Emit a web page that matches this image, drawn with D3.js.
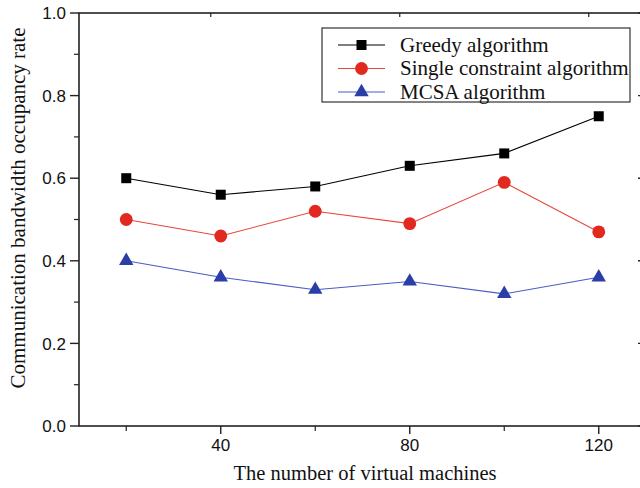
<!DOCTYPE html>
<html>
<head>
<meta charset="utf-8">
<script src="https://cdn.jsdelivr.net/npm/d3@7"></script>
<style>
  body { margin: 0; background: #fff; }
</style>
</head>
<body>
<svg id="chart" width="640" height="488"></svg>
<script>
const width = 640;
const height = 488;
const margin = { top: 13, right: -6, bottom: 62, left: 79 };

const vms = [20, 40, 60, 80, 100, 120];
const greedy = [0.60, 0.56, 0.58, 0.63, 0.66, 0.75];
const single = [0.50, 0.46, 0.52, 0.49, 0.59, 0.47];
const mcsa = [0.40, 0.36, 0.33, 0.35, 0.32, 0.36];
const seriesNames = ["Greedy algorithm", "Single constraint algorithm", "MCSA algorithm"];
const xTicks = [40, 80, 120];
const xMinor = [20, 60, 100];
const yTicks = [0.0, 0.2, 0.4, 0.6, 0.8, 1.0];
const yMinor = [0.1, 0.3, 0.5, 0.7, 0.9];

const series = [
  { name: seriesNames[0], values: greedy, line: "#000", fill: "#000", shape: d3.symbolSquare, size: 100 },
  { name: seriesNames[1], values: single, line: "#e8463c", fill: "#e2291f", shape: d3.symbolCircle, size: 130 },
  { name: seriesNames[2], values: mcsa, line: "#4a5cc4", fill: "#2b3ea8", shape: d3.symbolTriangle, size: 90 }
];

const svg = d3.select("#chart");

const x = d3.scaleLinear().domain([10, 130]).range([margin.left, width - margin.right]);
const y = d3.scaleLinear().domain([0, 1]).range([height - margin.bottom, margin.top]);

const x0 = x.range()[0], x1 = x.range()[1];
const y0 = y.range()[0], y1 = y.range()[1];
const axisColor = "#222";
const sans = "Liberation Sans, Arial, sans-serif";
const serif = "Liberation Serif, Times New Roman, serif";

// frame
svg.append("rect")
  .attr("x", x0).attr("y", y1)
  .attr("width", x1 - x0).attr("height", y0 - y1)
  .attr("fill", "none").attr("stroke", axisColor).attr("stroke-width", 1.6);

// left axis ticks
yTicks.forEach(v => {
  svg.append("line").attr("x1", x0 - 9).attr("x2", x0).attr("y1", y(v)).attr("y2", y(v))
    .attr("stroke", axisColor).attr("stroke-width", 1.4);
  svg.append("line").attr("x1", x1 - 8).attr("x2", x1).attr("y1", y(v)).attr("y2", y(v))
    .attr("stroke", axisColor).attr("stroke-width", 1.4);
  svg.append("text")
    .attr("x", x0 - 13).attr("y", y(v)).attr("dy", "0.36em")
    .attr("text-anchor", "end")
    .attr("font-family", sans)
    .attr("font-size", 17).attr("fill", "#111")
    .text(d3.format(".1f")(v));
});
yMinor.forEach(v => {
  svg.append("line").attr("x1", x0 - 5).attr("x2", x0).attr("y1", y(v)).attr("y2", y(v))
    .attr("stroke", axisColor).attr("stroke-width", 1.2);
});

// bottom axis ticks
xTicks.forEach(v => {
  svg.append("line").attr("x1", x(v)).attr("x2", x(v)).attr("y1", y0).attr("y2", y0 + 8)
    .attr("stroke", axisColor).attr("stroke-width", 1.4);
  svg.append("line").attr("x1", x(v) - 10).attr("x2", x(v) - 10).attr("y1", y1).attr("y2", y1 + 4)
    .attr("stroke", axisColor).attr("stroke-width", 1.2);
  svg.append("text")
    .attr("x", x(v)).attr("y", y0 + 25)
    .attr("text-anchor", "middle")
    .attr("font-family", sans)
    .attr("font-size", 17).attr("fill", "#111")
    .text(v);
});
xMinor.forEach(v => {
  svg.append("line").attr("x1", x(v)).attr("x2", x(v)).attr("y1", y0).attr("y2", y0 + 5)
    .attr("stroke", axisColor).attr("stroke-width", 1.2);
});

// axis titles
svg.append("text")
  .attr("x", 365).attr("y", 480)
  .attr("text-anchor", "middle")
  .attr("font-family", serif)
  .attr("font-size", 20.5).attr("fill", "#111")
  .text("The number of virtual machines");

svg.append("text")
  .attr("transform", "rotate(-90)")
  .attr("x", -208).attr("y", 25)
  .attr("text-anchor", "middle")
  .attr("font-family", serif)
  .attr("font-size", 21).attr("fill", "#111")
  .text("Communication bandwidth occupancy rate");

// series
const line = d3.line().x((d, i) => x(vms[i])).y(d => y(d));

series.forEach(s => {
  svg.append("path")
    .datum(s.values)
    .attr("d", line)
    .attr("fill", "none")
    .attr("stroke", s.line)
    .attr("stroke-width", 1.1);
  svg.selectAll(null)
    .data(s.values)
    .join("path")
    .attr("transform", (d, i) => `translate(${x(vms[i])},${y(d)})`)
    .attr("d", d3.symbol().type(s.shape).size(s.size))
    .attr("fill", s.fill);
});

// legend
const legend = svg.append("g");
legend.append("rect")
  .attr("x", 322).attr("y", 28)
  .attr("width", 308).attr("height", 74)
  .attr("fill", "#fff").attr("stroke", "#333").attr("stroke-width", 1.2);

series.forEach((s, i) => {
  const ly = 45 + i * 23.5;
  legend.append("line")
    .attr("x1", 338).attr("x2", 385).attr("y1", ly).attr("y2", ly)
    .attr("stroke", s.line).attr("stroke-width", 1.1);
  legend.append("path")
    .attr("transform", `translate(361.5,${ly})`)
    .attr("d", d3.symbol().type(s.shape).size(s.size))
    .attr("fill", s.fill);
  legend.append("text")
    .attr("x", 400).attr("y", ly).attr("dy", "0.33em")
    .attr("font-family", serif)
    .attr("font-size", 21).attr("fill", "#111")
    .text(s.name);
});
</script>
</body>
</html>
